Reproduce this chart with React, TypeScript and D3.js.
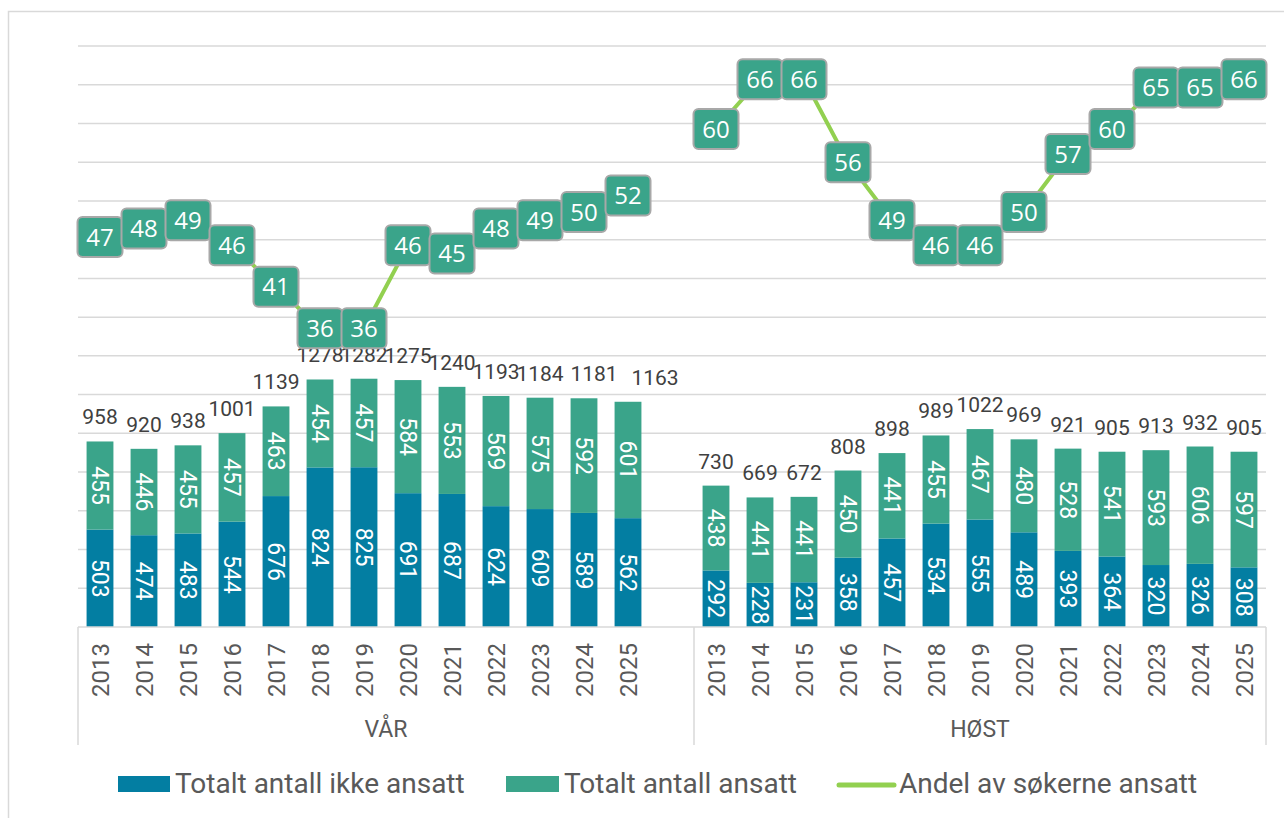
import React from 'react';
import * as d3 from 'd3';

// verdier lest av figuren
const years = ['2013', '2014', '2015', '2016', '2017', '2018', '2019', '2020', '2021', '2022', '2023', '2024', '2025'];
const groups = ['VÅR', 'HØST'];

const varIkkeAnsatt = [503, 474, 483, 544, 676, 824, 825, 691, 687, 624, 609, 589, 562];
const varAnsatt = [455, 446, 455, 457, 463, 454, 457, 584, 553, 569, 575, 592, 601];
const varAndel = [47, 48, 49, 46, 41, 36, 36, 46, 45, 48, 49, 50, 52];

const hostIkkeAnsatt = [292, 228, 231, 358, 457, 534, 555, 489, 393, 364, 320, 326, 308];
const hostAnsatt = [438, 441, 441, 450, 441, 455, 467, 480, 528, 541, 593, 606, 597];
const hostAndel = [60, 66, 66, 56, 49, 46, 46, 50, 57, 60, 65, 65, 66];

const seriesNames = ['Totalt antall ikke ansatt', 'Totalt antall ansatt', 'Andel av søkerne ansatt'];

const BLUE = '#037ea2';
const GREEN = '#3aa48a';
const LINE = '#92d050';
const GRID = '#d9d9d9';
const TEXT = '#595959';
const FONT = 'Roboto, sans-serif';

const W = 1284;
const H = 818;
const plot = { left: 78, right: 1266, top: 46, bottom: 627 };

// total-etiketter som er flyttet litt i originalen
const totalNudge = { 'VÅR-2024': 10, 'VÅR-2025': 27 };

type Row = { key: string; group: string; year: string; ikke: number; ansatt: number; andel: number };

const rows: Row[] = [];
years.forEach((y, i) =>
  rows.push({ key: `VÅR-${y}`, group: groups[0], year: y, ikke: varIkkeAnsatt[i], ansatt: varAnsatt[i], andel: varAndel[i] })
);
const hostRows: Row[] = years.map((y, i) => ({
  key: `HØST-${y}`,
  group: groups[1],
  year: y,
  ikke: hostIkkeAnsatt[i],
  ansatt: hostAnsatt[i],
  andel: hostAndel[i],
}));

const slots = [...rows.map((r) => r.key), 'VÅR-blank', ...hostRows.map((r) => r.key)];
const allRows = [...rows, ...hostRows];

export default function App() {
  const x = d3
    .scaleBand<string>()
    .domain(slots)
    .range([plot.left, plot.right])
    .paddingInner(0.39)
    .paddingOuter(0.195);
  const y = d3.scaleLinear().domain([0, 3000]).range([plot.bottom, plot.top]);
  const y2 = d3.scaleLinear().domain([0, 70]).range([plot.bottom, plot.top]);

  const cx = (k: string) => (x(k) as number) + x.bandwidth() / 2;
  const gridTicks = d3.range(200, 3001, 200);

  const line = d3
    .line<Row>()
    .x((d) => cx(d.key))
    .y((d) => y2(d.andel));

  const sepX = [plot.left, (x('VÅR-blank') as number) + x.bandwidth() + (x.step() - x.bandwidth()) / 2, plot.right];
  const groupCenters = [(sepX[0] + sepX[1]) / 2, (sepX[1] + sepX[2]) / 2];

  const boxW = 45;
  const boxH = 40;

  const legendY = 784;
  const legend = [
    { x: 118, w: 52, kind: 'rect', color: BLUE },
    { x: 506, w: 53, kind: 'rect', color: GREEN },
    { x: 839, w: 55, kind: 'line', color: LINE },
  ];

  return (
    <svg
      width={W}
      height={H}
      style={{ position: 'absolute', left: 0, top: 0, background: '#fff' }}
      fontFamily={FONT}
    >
      <rect x={8.5} y={11.5} width={W + 20} height={H + 20} fill="#fff" stroke={GRID} strokeWidth={1.5} />

      {/* gridlinjer */}
      <g>
        {gridTicks.map((t) => (
          <line key={t} x1={plot.left} x2={plot.right} y1={y(t)} y2={y(t)} stroke={GRID} strokeWidth={1.5} />
        ))}
      </g>

      {/* stablede søyler */}
      <g>
        {allRows.map((d) => (
          <g key={d.key}>
            <rect x={x(d.key)} y={y(d.ikke)} width={x.bandwidth()} height={y(0) - y(d.ikke)} fill={BLUE} />
            <rect
              x={x(d.key)}
              y={y(d.ikke + d.ansatt)}
              width={x.bandwidth()}
              height={y(d.ikke) - y(d.ikke + d.ansatt)}
              fill={GREEN}
            />
            <text
              transform={`translate(${cx(d.key)},${y(d.ikke / 2)}) rotate(90)`}
              textAnchor="middle"
              dy="0.36em"
              fill="#fff"
              fontSize={23}
            >
              {d.ikke}
            </text>
            <text
              transform={`translate(${cx(d.key)},${y(d.ikke + d.ansatt / 2)}) rotate(90)`}
              textAnchor="middle"
              dy="0.36em"
              fill="#fff"
              fontSize={23}
            >
              {d.ansatt}
            </text>
            <text
              x={cx(d.key) + (totalNudge[d.key] || 0)}
              y={y(d.ikke + d.ansatt) - 17}
              textAnchor="middle"
              fill="#404040"
              fontSize={21}
            >
              {d.ikke + d.ansatt}
            </text>
          </g>
        ))}
      </g>

      {/* akse */}
      <line x1={plot.left} x2={plot.right} y1={plot.bottom} y2={plot.bottom} stroke={GRID} strokeWidth={1.5} />
      {sepX.map((sx, i) => (
        <line key={i} x1={sx} x2={sx} y1={plot.bottom} y2={745} stroke={GRID} strokeWidth={1.5} />
      ))}
      {allRows.map((d) => (
        <text
          key={d.key}
          transform={`translate(${cx(d.key)},643) rotate(-90)`}
          textAnchor="end"
          dy="0.36em"
          fill={TEXT}
          fontSize={24}
        >
          {d.year}
        </text>
      ))}
      {groups.map((g, i) => (
        <text key={g} x={groupCenters[i]} y={737} textAnchor="middle" fill={TEXT} fontSize={23}>
          {g}
        </text>
      ))}

      {/* andel-linje */}
      <path d={line(rows) || ''} fill="none" stroke={LINE} strokeWidth={4} />
      <path d={line(hostRows) || ''} fill="none" stroke={LINE} strokeWidth={4} />
      {allRows.map((d) => (
        <g key={d.key} transform={`translate(${cx(d.key)},${y2(d.andel)})`}>
          <rect x={-boxW / 2} y={-boxH / 2} width={boxW} height={boxH} rx={5} fill={GREEN} stroke="#a8a8a8" strokeWidth={2} />
          <text textAnchor="middle" dy="0.36em" fill="#fff" fontSize={24} fontFamily="'Open Sans', sans-serif">
            {d.andel}
          </text>
        </g>
      ))}

      {/* tegnforklaring */}
      {legend.map((l, i) => (
        <g key={i}>
          {l.kind === 'rect' ? (
            <rect x={l.x} y={legendY - 8} width={l.w} height={16} fill={l.color} />
          ) : (
            <line x1={l.x} x2={l.x + l.w} y1={legendY + 1} y2={legendY + 1} stroke={l.color} strokeWidth={5} strokeLinecap="round" />
          )}
          <text x={l.x + l.w + 5} y={legendY + 9} fill={TEXT} fontSize={28}>
            {seriesNames[i]}
          </text>
        </g>
      ))}
    </svg>
  );
}
